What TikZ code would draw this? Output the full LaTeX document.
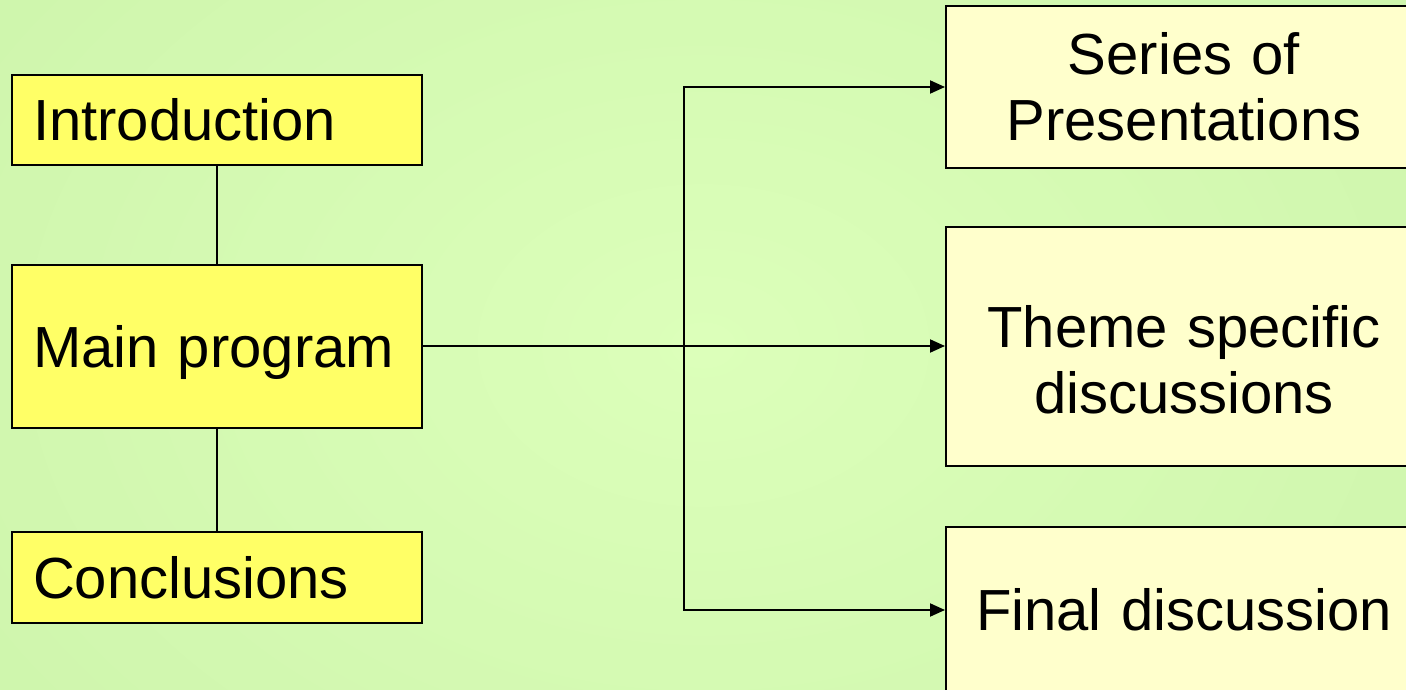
\documentclass[tikz,border=0pt]{standalone}
\usepackage{fontspec}
\setmainfont{Liberation Sans}
\usetikzlibrary{arrows.meta}
\definecolor{bgedge}{RGB}{206,245,172}
\definecolor{bgmid}{RGB}{220,255,186}
\definecolor{boxyellow}{RGB}{255,255,102}
\definecolor{boxpale}{RGB}{255,255,204}
\begin{document}
\begin{tikzpicture}[x=1pt,y=-1pt,
  every node/.style={font=\fontsize{58}{66}\selectfont},
  stage/.style={draw=black,line width=2pt,fill=boxyellow,minimum width=410pt,
    text width=368pt,inner xsep=21pt,align=left},
  part/.style={draw=black,line width=2pt,fill=boxpale,minimum width=476pt,
    text width=440pt,align=center},
  link/.style={line width=2pt},
  flow/.style={line width=2pt,-{Triangle[length=15pt,width=13pt]}}]
  \useasboundingbox (0,0) rectangle (1406,690);
  \clip (0,0) rectangle (1406,690);
  \shade[inner color=bgmid,outer color=bgedge] (-200,-300) rectangle (1606,990);

  % programme stages on the left
  \node[stage,minimum height=90pt]  (intro) at (217,120)   {Introduction};
  \node[stage,minimum height=163pt,text depth=0pt] (main) at (217,346) {Main program};
  \node[stage,minimum height=91pt]  (concl) at (217,577.5) {Conclusions};

  % parts of the main programme on the right
  \node[part,minimum height=162pt] (pres)  at (1184,87)   {Series of\\Presentations};
  \node[part,minimum height=239pt,text depth=40pt] (theme) at (1184,346) {Theme specific\\discussions};
  \node[part,minimum height=166pt] (final) at (1184,610)  {Final discussion};

  \draw[link] (intro) -- (main);
  \draw[link] (main) -- (concl);

  \coordinate (split) at (684,346);
  \draw[flow] (main.east) -- (theme.west);
  \draw[flow] (split) |- (pres.west);
  \draw[flow] (split) |- (final.west);
\end{tikzpicture}
\end{document}
